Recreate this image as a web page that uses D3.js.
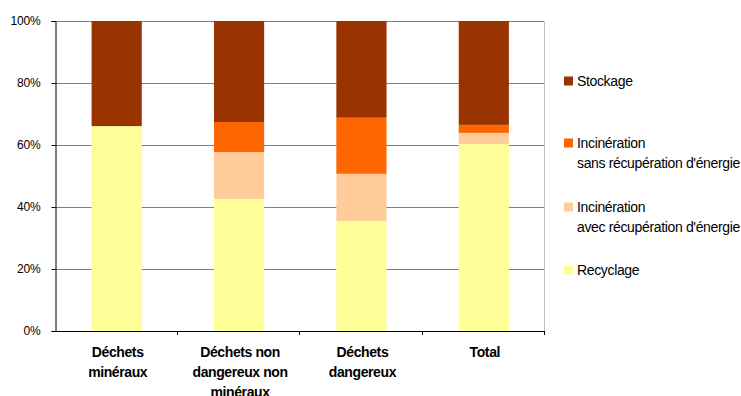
<!DOCTYPE html>
<html>
<head>
<meta charset="utf-8">
<script src="https://cdn.jsdelivr.net/npm/d3@7"></script>
<style>
  html, body { margin: 0; padding: 0; background: #fff; }
  text { font-family: "Liberation Sans", Arial, sans-serif; }
</style>
</head>
<body>
<svg id="chart" width="741" height="396"></svg>
<script>
// ---- data ----
const categories = [
  ["Déchets", "minéraux"],
  ["Déchets non", "dangereux non", "minéraux"],
  ["Déchets", "dangereux"],
  ["Total"]
];
const recyclage = [66.1, 42.6, 35.5, 60.3];
const avecRecup = [0, 15.1, 15.2, 3.6];
const sansRecup = [0, 9.7, 18.1, 2.6];
const stockage = [33.9, 32.6, 31.2, 33.5];
const seriesColors = ["#FFFF99", "#FFCC99", "#FF6600", "#993300"];
const yTicks = [0, 20, 40, 60, 80, 100];
const legendLabels = [
  ["Stockage"],
  ["Incinération", "sans récupération d'énergie"],
  ["Incinération", "avec récupération d'énergie"],
  ["Recyclage"]
];
const legendColors = ["#993300", "#FF6600", "#FFCC99", "#FFFF99"];

// ---- layout ----
const svg = d3.select("#chart");
const mLeft = 55.5, mRight = 545, mTop = 21, mBottom = 331;

const x = d3.scaleBand().domain(d3.range(categories.length)).range([mLeft, mRight]).paddingInner(0.59).paddingOuter(0.295);
const y = d3.scaleLinear().domain([0, 100]).range([mBottom, mTop]);

const rows = categories.map((c, i) => ({
  i,
  Recyclage: recyclage[i],
  avec: avecRecup[i],
  sans: sansRecup[i],
  Stockage: stockage[i]
}));
const keys = ["Recyclage", "avec", "sans", "Stockage"];
const stacked = d3.stack().keys(keys)(rows);

// gridlines
svg.append("g").selectAll("line").data(yTicks.filter(d => d > 0)).join("line")
  .attr("x1", mLeft).attr("x2", mRight)
  .attr("y1", d => Math.round(y(d)) + 0.5).attr("y2", d => Math.round(y(d)) + 0.5)
  .attr("stroke", "#808080").attr("stroke-width", 1);

// right border
svg.append("line").attr("x1", mRight - 0.5).attr("x2", mRight - 0.5).attr("y1", mTop).attr("y2", mBottom)
  .attr("stroke", "#c0c0c0");

// bars
svg.append("g").selectAll("g").data(stacked).join("g")
  .attr("fill", (d, i) => seriesColors[i])
  .selectAll("rect").data(d => d).join("rect")
  .attr("x", d => x(d.data.i))
  .attr("width", x.bandwidth())
  .attr("y", d => y(d[1]))
  .attr("height", d => y(d[0]) - y(d[1]));

// y axis
const yAxis = d3.axisLeft(y).tickValues(yTicks).tickFormat(d => d + "%").tickSize(4).tickPadding(11);
const ya = svg.append("g").attr("transform", `translate(${mLeft},0)`).call(yAxis);
ya.select(".domain").attr("stroke", "#000");
ya.selectAll(".tick line").attr("stroke", "#000");
ya.selectAll("text").attr("font-size", 12).attr("fill", "#000").attr("letter-spacing", "-0.2")
  .attr("font-family", "Liberation Sans, Arial, sans-serif");

// x axis
svg.append("line").attr("x1", mLeft).attr("x2", mRight).attr("y1", mBottom + 0.5).attr("y2", mBottom + 0.5).attr("stroke", "#000");
const step = x.step();
const boundaries = d3.range(categories.length + 1).map(i => x(0) - x.step() * x.paddingOuter() + i * step);
svg.append("g").selectAll("line").data(boundaries.slice(1)).join("line")
  .attr("x1", d => Math.round(d) - 0.5).attr("x2", d => Math.round(d) - 0.5)
  .attr("y1", mBottom).attr("y2", mBottom + 4).attr("stroke", "#000");

const xl = svg.append("g").selectAll("text").data(categories).join("text")
  .attr("x", (d, i) => x(i) + x.bandwidth() / 2 + 1)
  .attr("y", 357)
  .attr("text-anchor", "middle")
  .attr("font-size", 14).attr("font-weight", "bold").attr("letter-spacing", "-0.4")
  .attr("fill", "#000");
xl.selectAll("tspan").data(d => d).join("tspan")
  .attr("x", function () { return d3.select(this.parentNode).attr("x"); })
  .attr("dy", (d, j) => j === 0 ? 0 : 20)
  .text(d => d);

// legend
const legendY = [81, 143, 207, 270];
const lg = svg.append("g");
legendLabels.forEach((lab, i) => {
  lg.append("rect").attr("x", 564).attr("y", legendY[i] - 4.5).attr("width", 9).attr("height", 9).attr("fill", legendColors[i]);
  const t = lg.append("text").attr("x", 577).attr("y", legendY[i] + 5).attr("font-size", 14).attr("letter-spacing", "-0.35").attr("fill", "#000");
  lab.forEach((s, j) => {
    t.append("tspan").attr("x", 577).attr("dy", j === 0 ? 0 : 20).text(s);
  });
});
</script>
</body>
</html>
